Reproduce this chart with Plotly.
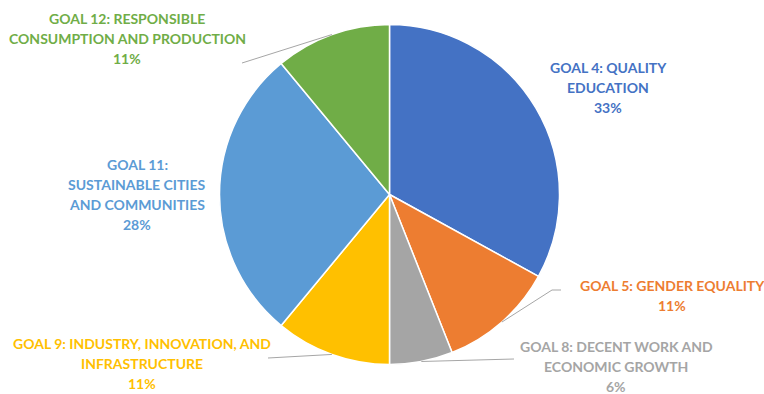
import math
import plotly.graph_objects as go

# ---- data ----
goals = ["GOAL 4: QUALITY EDUCATION", "GOAL 5: GENDER EQUALITY",
         "GOAL 8: DECENT WORK AND ECONOMIC GROWTH",
         "GOAL 9: INDUSTRY, INNOVATION, AND INFRASTRUCTURE",
         "GOAL 11: SUSTAINABLE CITIES AND COMMUNITIES",
         "GOAL 12: RESPONSIBLE CONSUMPTION AND PRODUCTION"]
shares = [33, 11, 6, 11, 28, 11]
label_lines = [
    ["GOAL 4: QUALITY", "EDUCATION"],
    ["GOAL 5: GENDER EQUALITY"],
    ["GOAL 8: DECENT WORK AND", "ECONOMIC GROWTH"],
    ["GOAL 9: INDUSTRY, INNOVATION, AND", "INFRASTRUCTURE"],
    ["GOAL 11:", "SUSTAINABLE CITIES", "AND COMMUNITIES"],
    ["GOAL 12: RESPONSIBLE", "CONSUMPTION AND PRODUCTION"],
]

# ---- style / layout ----
colors = ["#4472C4", "#ED7D31", "#A5A5A5", "#FFC000", "#5B9BD5", "#70AD47"]
W, H = 764, 394
CX, CY, R = 389.5, 194.5, 170.0
# label block anchor (center x, first-line y) in px, line gap
label_pos = [(608, 67), (672, 285), (616, 346), (142, 343), (137, 164), (127, 18)]
LINE_GAP = 20.3
# leader: label-side start point(s) in px (None = no leader)
leader_start = [None, [(561, 290), (552, 290)], [(514, 359)], [(268, 358)], None, [(242, 63)]]

def px(x, y):
    return x / W, 1 - y / H

fig = go.Figure(go.Pie(
    labels=goals, values=shares, sort=False, direction="clockwise", rotation=0,
    marker=dict(colors=colors, line=dict(color="white", width=1.5)),
    textinfo="none", hoverinfo="label+percent", showlegend=False,
    domain=dict(x=[(CX - R) / W, (CX + R) / W], y=[1 - (CY + R) / H, 1 - (CY - R) / H]),
))

total = sum(shares)
cum = 0
annotations, shapes = [], []
for i, v in enumerate(shares):
    mid = (cum + v / 2) / total * 2 * math.pi
    cum += v
    ex, ey = CX + R * math.sin(mid), CY - R * math.cos(mid)
    lx, ly = label_pos[i]
    lines = label_lines[i] + [f"{round(v / total * 100)}%"]
    for k, t in enumerate(lines):
        xx, yy = px(lx, ly + k * LINE_GAP)
        annotations.append(dict(x=xx, y=yy, xref="paper", yref="paper", text=f"<b>{t}</b>",
                                showarrow=False, xanchor="center", yanchor="middle",
                                font=dict(family="Lato", size=14, color=colors[i])))
    if leader_start[i]:
        pts = leader_start[i] + [(ex, ey)]
        path = "M " + " L ".join(f"{px(a, b)[0]},{px(a, b)[1]}" for a, b in pts)
        shapes.append(dict(type="path", xref="paper", yref="paper", path=path,
                           line=dict(color="#A6A6A6", width=1), layer="above"))

fig.update_layout(width=W, height=H, margin=dict(l=0, r=0, t=0, b=0),
                  paper_bgcolor="white", plot_bgcolor="white",
                  annotations=annotations, shapes=shapes)
fig.write_html("out.html")
